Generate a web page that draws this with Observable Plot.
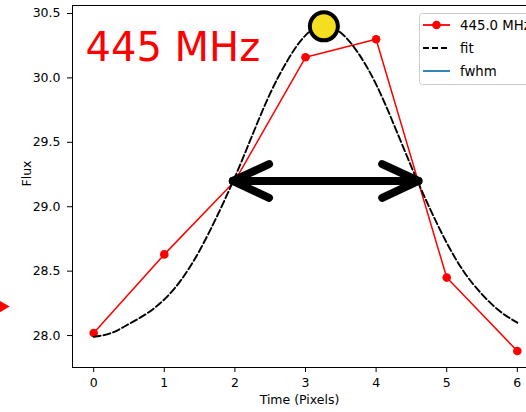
<!DOCTYPE html>
<html><head><meta charset="utf-8">
<script src="https://cdn.jsdelivr.net/npm/d3@7"></script>
<script src="https://cdn.jsdelivr.net/npm/@observablehq/plot@0.6"></script>
<style>html,body{margin:0;padding:0;overflow:hidden;background:#fff;}</style>
</head><body><div id="chart"></div>
<script>
// measured light curve (445 MHz)
const timePixels = [0, 1, 2, 3, 4, 5, 6];
const flux = [28.02, 28.63, 29.20, 30.16, 30.30, 28.45, 27.88];
// fitted curve
const fitX = [0,0.25,0.5,0.75,1,1.25,1.5,1.75,2,2.25,2.5,2.75,3,3.25,3.5,3.75,4,4.25,4.5,4.75,5,5.25,5.5,5.75,6];
const fitFlux = [27.99,28.02,28.09,28.17,28.28,28.44,28.66,28.93,29.23,29.56,29.88,30.14,30.33,30.40,30.35,30.19,29.95,29.64,29.31,29.00,28.72,28.49,28.32,28.19,28.10];
// full width at half maximum
const fwhmX = [1.97, 4.60];
const fwhmY = [29.2, 29.2];
// peak marker
const peakX = [3.26];
const peakY = [30.40];
// stray marker at the left edge
const strayX = [-1.3];
const strayY = [28.225];
// ticks
const xTicks = [0, 1, 2, 3, 4, 5, 6];
const yTicks = [28.0, 28.5, 29.0, 29.5, 30.0, 30.5];
const xDomain = [-0.3, 6.3];
const yDomain = [27.752, 30.562];
const titleText = "445 MHz";
const xLabel = "Time (Pixels)";
const yLabel = "Flux";
const legendLabels = ["445.0 MHz", "fit", "fwhm"];

const series = timePixels.map((t, i) => ({t, f: flux[i]}));
const fit = fitX.map((t, i) => ({t, f: fitFlux[i]}));
const fwhm = fwhmX.map((t, i) => ({t, f: fwhmY[i]}));
const peak = peakX.map((t, i) => ({t, f: peakY[i]}));
const stray = strayX.map((t, i) => ({t, f: strayY[i]}));
const arrows = [
  {x1: fwhmX[0], x2: fwhmX[1], y1: fwhmY[0], y2: fwhmY[1]},
  {x1: fwhmX[1], x2: fwhmX[0], y1: fwhmY[1], y2: fwhmY[0]}
];

const plot = Plot.plot({
  width: 526, height: 412,
  marginLeft: 72, marginTop: 5, marginBottom: 45, marginRight: 0,
  x: {domain: xDomain, range: [72, 538]},
  y: {domain: yDomain},
  style: {fontFamily: "DejaVu Sans", fontSize: "12.5px", color: "black", background: "white"},
  marks: [
    Plot.axisX(xTicks, {tickSize: 5, tickPadding: 6, label: null, tickFormat: d => String(d), fontSize: 12.5}),
    Plot.axisY(yTicks, {tickSize: 5, tickPadding: 7, label: null, tickFormat: d3.format(".1f"), fontSize: 12.5}),
    Plot.frame({stroke: "black", strokeWidth: 1}),
    Plot.text([yLabel], {frameAnchor: "left", dx: -46, rotate: -90, lineAnchor: "middle", fontSize: 12.5}),
    Plot.text([xLabel], {frameAnchor: "bottom", dy: 32, lineAnchor: "middle", fontSize: 12.5}),
    Plot.text([titleText], {frameAnchor: "top-left", dx: 13, dy: 43, textAnchor: "start", lineAnchor: "middle", fill: "red", fontSize: 40}),
    Plot.line(series, {x: "t", y: "f", stroke: "red", strokeWidth: 1.5}),
    Plot.dot(series, {x: "t", y: "f", fill: "red", r: 4.3}),
    Plot.line(fit, {x: "t", y: "f", stroke: "black", strokeWidth: 1.9, strokeDasharray: "7,3", curve: "natural"}),
    Plot.line(fwhm, {x: "t", y: "f", stroke: "#1f77b4", strokeWidth: 1.5}),
    Plot.arrow(arrows, {x1: "x1", y1: "y1", x2: "x2", y2: "y2", stroke: "black", strokeWidth: 8, headLength: 7.5, headAngle: 50}),
    Plot.dot(peak, {x: "t", y: "f", r: 14, fill: "#f5dd1f", stroke: "black", strokeWidth: 4}),
    Plot.dot(stray, {x: "t", y: "f", symbol: "triangle", r: 5, fill: "red", rotate: 90})
  ]
});

// legend (matplotlib style, upper right)
const svg = d3.select(plot);
const g = svg.append("g").attr("font-family", "DejaVu Sans").attr("font-size", 13.3).attr("text-anchor", "start");
g.append("rect").attr("x", 419.5).attr("y", 13.5).attr("width", 140).attr("height", 71)
  .attr("rx", 3).attr("fill", "white").attr("fill-opacity", 0.85).attr("stroke", "#cccccc");
const rowsY = [25, 48, 71];
const styles = [
  {stroke: "red", dash: null, dot: true},
  {stroke: "black", dash: "6,3", dot: false},
  {stroke: "#1f77b4", dash: null, dot: false}
];
legendLabels.forEach((lab, i) => {
  const y = rowsY[i], s = styles[i];
  const l = g.append("line").attr("x1", 423).attr("x2", 450).attr("y1", y).attr("y2", y)
    .attr("stroke", s.stroke).attr("stroke-width", 1.8);
  if (s.dash) l.attr("stroke-dasharray", s.dash);
  if (s.dot) g.append("circle").attr("cx", 436.5).attr("cy", y).attr("r", 4.3).attr("fill", "red");
  g.append("text").attr("x", 460).attr("y", y).attr("dy", "0.35em").attr("fill", "black")
    .attr("text-anchor", "start").text(lab);
});

document.getElementById("chart").append(plot);
</script>
</body></html>
